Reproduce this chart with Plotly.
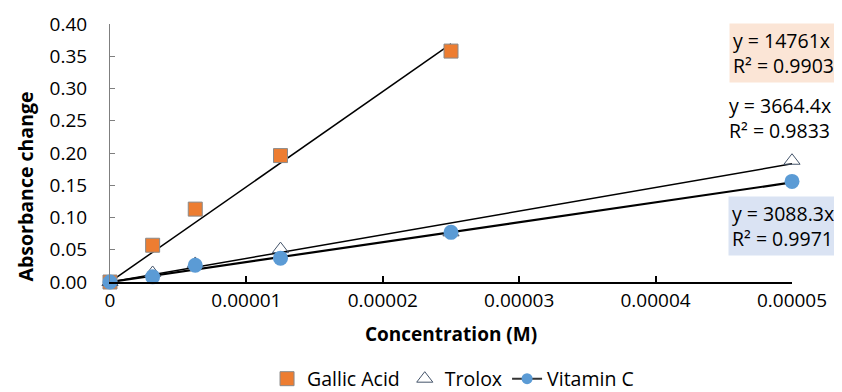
import plotly.graph_objects as go

# Data
conc = [0, 3.125e-6, 6.25e-6, 1.25e-5, 2.5e-5, 5e-5]
gallic_x = conc[:5]
gallic_y = [0.0, 0.057, 0.113, 0.196, 0.358]
trolox_x = conc
trolox_y = [0.0, 0.014, 0.028, 0.051, 0.077, 0.188]
vitc_x = conc
vitc_y = [0.0, 0.008, 0.026, 0.037, 0.077, 0.156]

slopes = {"Gallic Acid": 14761, "Trolox": 3664.4, "Vitamin C": 3088.3}
r2 = {"Gallic Acid": 0.9903, "Trolox": 0.9833, "Vitamin C": 0.9971}
fit_xmax = {"Gallic Acid": 2.5e-5, "Trolox": 5e-5, "Vitamin C": 5e-5}

x_tickvals = [0, 1e-5, 2e-5, 3e-5, 4e-5, 5e-5]
x_ticktext = ["0", "0.00001", "0.00002", "0.00003", "0.00004", "0.00005"]
y_tickvals = [0, 0.05, 0.10, 0.15, 0.20, 0.25, 0.30, 0.35, 0.40]
y_ticktext = ["0.00", "0.05", "0.10", "0.15", "0.20", "0.25", "0.30", "0.35", "0.40"]

FONT = "Open Sans"
fig = go.Figure()

# trendlines
for name, w in [("Gallic Acid", 1.5), ("Trolox", 1.5), ("Vitamin C", 2.2)]:
    xs = [0, fit_xmax[name]]
    fig.add_trace(go.Scatter(x=xs, y=[slopes[name] * v for v in xs], mode="lines",
                             line=dict(color="black", width=w), showlegend=False,
                             hoverinfo="skip", cliponaxis=False))

fig.add_trace(go.Scatter(x=gallic_x, y=gallic_y, mode="markers", name="Gallic Acid",
                         marker=dict(symbol="square", size=14, color="#ED7D31",
                                     line=dict(color="#8a8a8a", width=1)),
                         cliponaxis=False))
fig.add_trace(go.Scatter(x=trolox_x, y=trolox_y, mode="markers", name="Trolox",
                         marker=dict(symbol="triangle-up-open", size=14, color="#44546A",
                                     line=dict(width=1)),
                         cliponaxis=False))
fig.add_trace(go.Scatter(x=vitc_x, y=vitc_y, mode="markers", name="Vitamin C",
                         marker=dict(symbol="circle", size=15, color="#5B9BD5"),
                         showlegend=False, cliponaxis=False))
# legend entry for Vitamin C (line + marker)
fig.add_trace(go.Scatter(x=[None], y=[None], mode="lines+markers", name="Vitamin C",
                         line=dict(color="#333333", width=2),
                         marker=dict(symbol="circle", size=11, color="#5B9BD5")))

ann_font = dict(family=FONT, size=19.5, color="black")
common = dict(xref="paper", yref="paper", showarrow=False, font=ann_font,
              align="left", xanchor="center", yanchor="middle", borderpad=3)
fig.add_annotation(x=0.987, y=0.887, bgcolor="#FBE5D6",
                   text=f"y = {slopes['Gallic Acid']}x<br>R² = {r2['Gallic Acid']:.4f}",
                   **common)
fig.add_annotation(x=0.983, y=0.634,
                   text=f"y = {slopes['Trolox']}x<br>R² = {r2['Trolox']:.4f}",
                   **common)
fig.add_annotation(x=0.987, y=0.217, bgcolor="#DAE3F3",
                   text=f"y = {slopes['Vitamin C']}x<br>R² = {r2['Vitamin C']:.4f}",
                   **common)
fig.add_annotation(xref="paper", yref="paper", x=-0.124, y=0.372, textangle=-90,
                   xanchor="center", yanchor="middle",
                   text="<b>Absorbance change</b>", showarrow=False,
                   font=dict(family=FONT, size=19.5, color="black"))

# page body has an 8px margin: size and offset the figure so it fits the window
fig.update_layout(
    width=834, height=384,
    margin=dict(l=102, r=50, t=16, b=110, autoexpand=False),
    paper_bgcolor="white", plot_bgcolor="white",
    font=dict(family=FONT, size=19, color="black"),
    showlegend=True,
    legend=dict(orientation="h", x=0.503, xanchor="center", y=-0.376, yanchor="middle",
                font=dict(family=FONT, size=19.5), itemwidth=30, tracegroupgap=0),
    xaxis=dict(range=[0, 5e-5], tickvals=x_tickvals, ticktext=x_ticktext,
               showgrid=False, zeroline=False, showline=True, linecolor="black",
               linewidth=2, ticks="inside", ticklen=6, tickcolor="black", tickwidth=2,
               automargin=False,
               title=dict(text="<b>Concentration (M)</b>", font=dict(size=19), standoff=16)),
    yaxis=dict(range=[0, 0.40], tickvals=y_tickvals, ticktext=y_ticktext,
               showgrid=False, zeroline=False, showline=True, linecolor="#7f7f7f",
               linewidth=1, ticks="inside", ticklen=5, tickcolor="#7f7f7f",
               ticklabelstandoff=18, automargin=False),
)

fig.write_html("out.html")
